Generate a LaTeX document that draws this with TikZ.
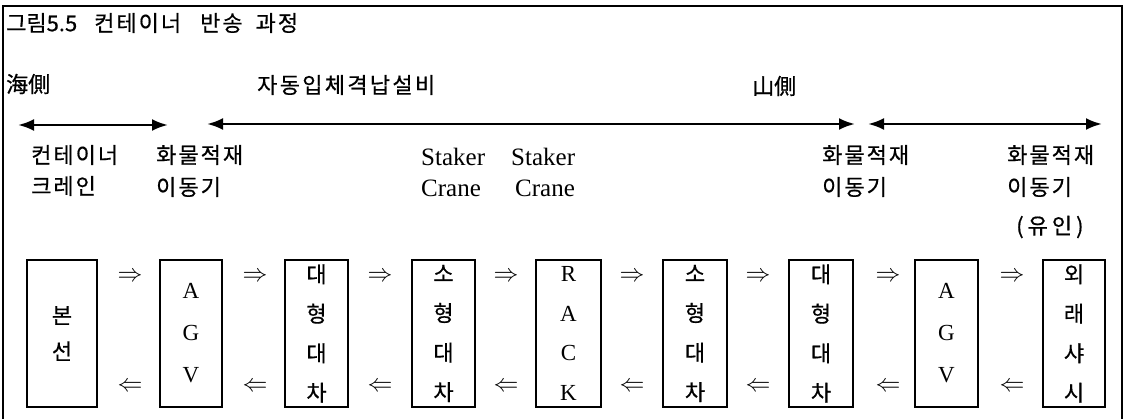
\documentclass[tikz,border=0pt]{standalone}
\usepackage{fontspec}
\setmainfont{Liberation Serif}
\newfontfamily\kr[FakeBold=0.6]{Noto Sans CJK KR}
\usetikzlibrary{arrows.meta}
\makeatletter
\newcommand\lspc[2]{\def\lspc@gap{#1}\lspc@loop#2\relax}
\def\lspc@loop#1{\ifx#1\relax\else#1\hspace*{\lspc@gap}\expandafter\lspc@loop\fi}
\makeatother
\tikzset{
  lbl/.style={anchor=west, inner sep=0pt, font=\kr\fontsize{22}{22}\selectfont},
  lat/.style={anchor=west, inner sep=0pt, font=\fontsize{25}{25}\selectfont},
  box/.style={draw, line width=1.3pt, inner sep=0pt, minimum height=147pt, align=center},
  krbox/.style={box, font=\kr\fontsize{22}{39.5}\selectfont},
  latbox/.style={box, font=\fontsize{23}{42}\selectfont},
  sym/.style={inner sep=0pt, font=\fontsize{23}{23}\selectfont},
  span/.style={line width=2.6pt, {Latex[length=16pt,width=12pt]}-{Latex[length=16pt,width=12pt]}},
  frame/.style={line width=1.4pt}
}
\begin{document}
\begin{tikzpicture}[x=1pt,y=-1pt]
\useasboundingbox (0,0) rectangle (1126,419);
% frame (open at bottom)
\coordinate (fbl) at (3,419);
\coordinate (ftl) at (3,6);
\coordinate (ftr) at (1122,6);
\coordinate (fbr) at (1122,419);
\draw[frame] (fbl) -- (ftl) -- (ftr) -- (fbr);
% title and headers
\node[lbl] (title) at (6,23) {그림5.5\hspace*{17pt}\lspc{2pt}{컨테이너}\hspace*{17pt}\lspc{2pt}{반송}\hspace*{11pt}\lspc{2pt}{과정}};
\node[lbl] (sea) at (6,84) {海側};
\node[lbl] (asrs) at (257,85) {\lspc{2.3pt}{자동입체격납설비}};
\node[lbl] (mtn) at (752,86) {山側};
% span arrows
\coordinate (a1s) at (18,125);
\coordinate (a1e) at (168,125);
\coordinate (a2s) at (207,124);
\coordinate (a2e) at (855,124);
\coordinate (a3s) at (868,124);
\coordinate (a3e) at (1102,124);
\draw[span] (a1s) -- (a1e);
\draw[span] (a2s) -- (a2e);
\draw[span] (a3s) -- (a3e);
% labels
\node[lbl] (l1a) at (31,155) {\lspc{2pt}{컨테이너}};
\node[lbl] (l1b) at (31,186) {\lspc{2pt}{크레인}};
\node[lbl] (l2a) at (156,155) {\lspc{2pt}{화물적재}};
\node[lbl] (l2b) at (156,187) {\lspc{2pt}{이동기}};
\node[lat] (l3a) at (421,157) {Staker};
\node[lat] (l3b) at (421,188) {Crane};
\node[lat] (l4a) at (511,157) {Staker};
\node[lat] (l4b) at (515,188) {Crane};
\node[lbl] (l5a) at (822,155) {\lspc{2pt}{화물적재}};
\node[lbl] (l5b) at (822,187) {\lspc{2pt}{이동기}};
\node[lbl] (l6a) at (1007,155) {\lspc{2pt}{화물적재}};
\node[lbl] (l6b) at (1007,187) {\lspc{2pt}{이동기}};
\node[lbl] (l6c) at (1016,227) {\lspc{4pt}{(유인)}};
% boxes
\node[box, font=\kr\fontsize{22}{36}\selectfont, minimum width=70pt] (b1) at (62,333.5) {본\\선};
\node[latbox, minimum width=62pt] (b2) at (191,333.5) {A\\G\\V};
\node[krbox, minimum width=63pt] (b3) at (316.5,333.5) {대\\형\\대\\차};
\node[krbox, minimum width=63pt] (b4) at (443.5,333.5) {소\\형\\대\\차};
\node[latbox, font=\fontsize{23}{39.5}\selectfont, minimum width=65pt] (b5) at (568.5,333.5) {R\\A\\C\\K};
\node[krbox, minimum width=64pt] (b6) at (695,333.5) {소\\형\\대\\차};
\node[krbox, minimum width=64pt] (b7) at (821,333.5) {대\\형\\대\\차};
\node[latbox, minimum width=63pt] (b8) at (946.5,333.5) {A\\G\\V};
\node[krbox, minimum width=62pt] (b9) at (1074,333.5) {외\\래\\샤\\시};
% flow symbols
\foreach \x [count=\i] in {130,255,380,506,632,758,888,1012}{
  \node[sym] (r\i) at (\x,277) {$\Rightarrow$};
  \node[sym] (l\i) at (\x,387) {$\Leftarrow$};
}
\end{tikzpicture}
\end{document}
